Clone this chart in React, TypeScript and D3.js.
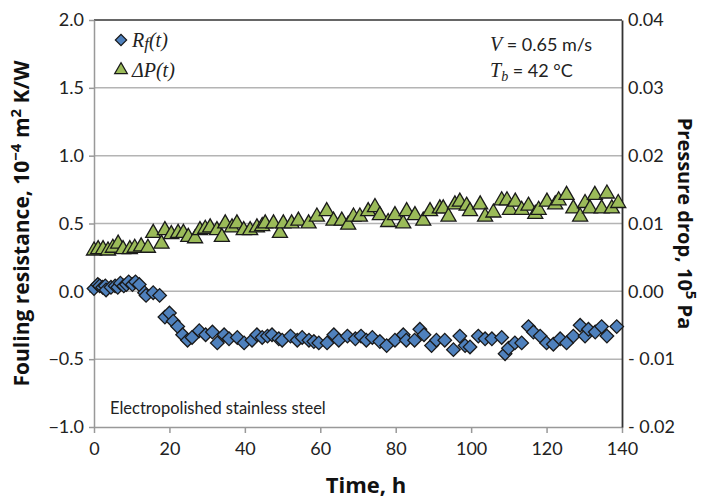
import React, { useEffect, useRef } from 'react'
import * as d3 from 'd3'

// fouling resistance, 10^-4 m2 K/W (left axis)
const rfTime = [
  0, 1.0, 1.5, 2.3, 3.0, 3.2, 4.5, 5.6, 6.3, 7.0, 7.9, 8.6, 9.2, 10.2, 11.0, 12.0, 13.4, 13.8, 15.7, 17.4,
  18.8, 20.0, 21.0, 22.2, 23.5, 24.8, 26.0, 27.9, 29.6, 31.4, 32.7, 34.5, 35.8, 38.0, 39.8, 41.9, 43.2, 44.6,
  46.0, 47.2, 49.0, 49.9, 52.1, 53.9, 55.2, 57.0, 58.3, 59.6, 61.8, 63.6, 64.9, 67.2, 69.3, 70.8, 72.2, 73.8,
  75.8, 77.6, 79.8, 82.0, 82.8, 85.0, 86.4, 87.5, 89.5, 90.8, 93.0, 95.3, 97.0, 98.4, 99.7, 101.9, 103.7,
  105.5, 108.1, 109.0, 109.9, 111.6, 113.4, 115.2, 116.5, 118.3, 120.0, 121.8, 123.6, 125.3, 127.1, 128.9,
  130.2, 131.1, 132.9, 134.6, 136.0, 138.6,
]
const rfValue = [
  0.02, 0.05, 0.04, 0.03, 0.04, 0.01, 0.03, 0.04, 0.03, 0.06, 0.04, 0.05, 0.07, 0.05, 0.07, 0.05, -0.01, -0.03,
  -0.01, -0.03, -0.19, -0.16, -0.22, -0.26, -0.32, -0.36, -0.34, -0.29, -0.32, -0.3, -0.38, -0.32, -0.35, -0.34,
  -0.38, -0.36, -0.32, -0.34, -0.33, -0.32, -0.35, -0.36, -0.33, -0.36, -0.34, -0.36, -0.37, -0.38, -0.38,
  -0.32, -0.36, -0.33, -0.35, -0.33, -0.36, -0.34, -0.37, -0.4, -0.36, -0.32, -0.36, -0.36, -0.28, -0.32, -0.4,
  -0.36, -0.36, -0.43, -0.33, -0.4, -0.41, -0.33, -0.35, -0.35, -0.34, -0.46, -0.42, -0.38, -0.38, -0.26, -0.3,
  -0.33, -0.38, -0.39, -0.35, -0.38, -0.33, -0.25, -0.33, -0.28, -0.3, -0.26, -0.33, -0.26,
]

// pressure drop, 10^5 Pa (right axis)
const dpTime = [
  0, 1.1, 2.4, 3.7, 5.0, 6.4, 7.7, 9.5, 10.8, 12.5, 14.3, 15.7, 17.9, 18.8, 20.5, 22.3, 23.7, 25.0, 26.8, 28.1,
  29.5, 30.8, 32.6, 33.9, 34.8, 36.6, 37.9, 39.7, 41.4, 43.2, 44.6, 45.4, 47.6, 49.3, 50.2, 52.4, 54.2, 56.9,
  59.1, 61.7, 63.5, 65.7, 67.4, 68.8, 70.5, 72.7, 74.5, 75.8, 78.0, 79.8, 82.0, 82.9, 85.1, 87.3, 89.1, 91.7,
  92.6, 94.0, 95.7, 97.0, 98.8, 99.7, 102.4, 103.7, 105.9, 108.1, 109.5, 110.3, 111.7, 113.4, 115.2, 117.0,
  117.9, 120.1, 122.3, 123.2, 125.3, 127.1, 128.9, 130.2, 131.5, 132.8, 134.6, 136.0, 137.3, 139.0,
]
const dpValue = [
  0.006, 0.0062, 0.0062, 0.006, 0.0064, 0.007, 0.0062, 0.0062, 0.0064, 0.0066, 0.0064, 0.0086, 0.007, 0.009,
  0.0084, 0.0086, 0.0086, 0.008, 0.0078, 0.009, 0.0092, 0.0094, 0.009, 0.008, 0.01, 0.0094, 0.01, 0.009, 0.009,
  0.0094, 0.0096, 0.01, 0.01, 0.0086, 0.01, 0.01, 0.0104, 0.01, 0.011, 0.0118, 0.0104, 0.0104, 0.0098, 0.011,
  0.011, 0.0118, 0.0124, 0.0112, 0.0102, 0.0112, 0.01, 0.0118, 0.0112, 0.0104, 0.0118, 0.0122, 0.0122, 0.011,
  0.0128, 0.0132, 0.0126, 0.0118, 0.0128, 0.011, 0.0116, 0.0134, 0.0134, 0.012, 0.0132, 0.012, 0.0126, 0.0114,
  0.012, 0.0132, 0.0128, 0.0134, 0.0142, 0.0122, 0.011, 0.013, 0.0122, 0.0142, 0.0122, 0.0144, 0.0122, 0.013,
]

const xTicks = [0, 20, 40, 60, 80, 100, 120, 140]
const leftTicks = [2, 1.5, 1, 0.5, 0, -0.5, -1]
const leftTickLabels = ['2.0', '1.5', '1.0', '0.5', '0.0', '\u22120.5', '\u22121.0']
const rightTicks = [0.04, 0.03, 0.02, 0.01, 0, -0.01, -0.02]
const rightTickLabels = ['0.04', '0.03', '0.02', '0.01', '0.00', '- 0.01', '- 0.02']

const sans = 'Lato, "Open Sans", sans-serif'
const titleFont = '"Open Sans", Lato, sans-serif'
const serif = '"Liberation Serif", "DejaVu Serif", serif'

const App = () => {
  const svgRef = useRef<SVGSVGElement>(null)

  useEffect(() => {
    const left = 94
    const right = 622
    const top = 20
    const bottom = 427

    const svg = d3.select(svgRef.current)
    svg.selectAll('*').remove()

    const x = d3.scaleLinear().domain([0, 140]).range([left, right])
    const y = d3.scaleLinear().domain([-1, 2]).range([bottom, top])
    const y2 = d3.scaleLinear().domain([-0.02, 0.04]).range([bottom, top])

    // gridlines
    svg
      .append('g')
      .selectAll('line')
      .data(leftTicks.filter((d) => d !== 2 && d !== -1))
      .join('line')
      .attr('x1', left)
      .attr('x2', right)
      .attr('y1', (d) => y(d))
      .attr('y2', (d) => y(d))
      .attr('stroke', '#b4b4b4')
      .attr('stroke-width', 1.5)

    // top border
    svg
      .append('line')
      .attr('x1', left)
      .attr('x2', right)
      .attr('y1', top)
      .attr('y2', top)
      .attr('stroke', '#333')
      .attr('stroke-width', 1.5)

    // left axis
    const gl = svg
      .append('g')
      .attr('transform', `translate(${left},0)`)
      .call(
        d3
          .axisLeft(y)
          .tickValues(leftTicks)
          .tickFormat((d, i) => leftTickLabels[i])
          .tickSize(5)
          .tickSizeOuter(0)
          .tickPadding(5)
      )
    gl.select('.domain').attr('stroke', '#999').attr('stroke-width', 1.5)
    gl.selectAll('.tick line').attr('stroke', '#999').attr('stroke-width', 1.5)
    gl.selectAll('.tick text')
      .attr('fill', '#222')
      .style('font-family', sans)
      .style('font-size', '18px')

    // bottom axis
    const gb = svg
      .append('g')
      .attr('transform', `translate(0,${bottom})`)
      .call(d3.axisBottom(x).tickValues(xTicks).tickSize(6).tickSizeOuter(0).tickPadding(9))
    gb.select('.domain').attr('stroke', '#999').attr('stroke-width', 1.5)
    gb.selectAll('.tick line').attr('stroke', '#999').attr('stroke-width', 1.5)
    gb.selectAll('.tick text')
      .attr('fill', '#222')
      .style('font-family', sans)
      .style('font-size', '18px')

    // right axis
    const gr = svg
      .append('g')
      .attr('transform', `translate(${right},0)`)
      .call(
        d3
          .axisRight(y2)
          .tickValues(rightTicks)
          .tickFormat((d, i) => rightTickLabels[i])
          .tickSize(0)
          .tickPadding(6)
      )
    gr.select('.domain').attr('stroke', '#333').attr('stroke-width', 1.8)
    gr.selectAll('.tick text')
      .attr('fill', '#222')
      .style('font-family', sans)
      .style('font-size', '18px')

    // data
    const tri = d3.symbol(d3.symbolTriangle, 98)
    svg
      .append('g')
      .selectAll('path')
      .data(d3.range(dpTime.length))
      .join('path')
      .attr('d', tri)
      .attr('transform', (i) => `translate(${x(dpTime[i])},${y2(dpValue[i])})`)
      .attr('fill', '#9bbb59')
      .attr('stroke', '#1a1a1a')
      .attr('stroke-width', 1.3)

    const dia = d3.symbol(d3.symbolSquare, 92)
    svg
      .append('g')
      .selectAll('path')
      .data(d3.range(rfTime.length))
      .join('path')
      .attr('d', dia)
      .attr('transform', (i) => `translate(${x(rfTime[i])},${y(rfValue[i])}) rotate(45)`)
      .attr('fill', '#4f81bd')
      .attr('stroke', '#1a1a1a')
      .attr('stroke-width', 1.3)

    // legend
    svg
      .append('path')
      .attr('d', d3.symbol(d3.symbolSquare, 64))
      .attr('transform', 'translate(121,40) rotate(45)')
      .attr('fill', '#4f81bd')
      .attr('stroke', '#1a1a1a')
      .attr('stroke-width', 1.2)
    const l1 = svg
      .append('text')
      .attr('x', 132)
      .attr('y', 47)
      .style('font-family', serif)
      .style('font-style', 'italic')
      .style('font-size', '20px')
      .attr('fill', '#222')
    l1.append('tspan').text('R')
    l1.append('tspan').text('f').attr('dy', 2).style('font-size', '17px')
    l1.append('tspan').text('(t)').attr('dy', -2)

    svg
      .append('path')
      .attr('d', d3.symbol(d3.symbolTriangle, 70))
      .attr('transform', 'translate(121,70)')
      .attr('fill', '#9bbb59')
      .attr('stroke', '#1a1a1a')
      .attr('stroke-width', 1.2)
    svg
      .append('text')
      .attr('x', 132)
      .attr('y', 77)
      .text('\u0394P(t)')
      .style('font-family', serif)
      .style('font-style', 'italic')
      .style('font-size', '20px')
      .attr('fill', '#222')

    // conditions
    const c1 = svg.append('text').attr('x', 490).attr('y', 51).attr('fill', '#222').style('font-size', '18px')
    c1.append('tspan').text('V').style('font-family', serif).style('font-style', 'italic').style('font-size', '20px')
    c1.append('tspan').text(' = 0.65 m/s').style('font-family', sans)
    const c2 = svg.append('text').attr('x', 490).attr('y', 77).attr('fill', '#222').style('font-size', '18px')
    c2.append('tspan').text('T').style('font-family', serif).style('font-style', 'italic').style('font-size', '20px')
    c2.append('tspan').text('b').attr('dy', 4).style('font-family', serif).style('font-style', 'italic').style('font-size', '14px')
    c2.append('tspan').text(' = 42 \u00b0C').attr('dy', -4).style('font-family', sans)

    svg
      .append('text')
      .attr('x', 110)
      .attr('y', 414)
      .text('Electropolished stainless steel')
      .attr('fill', '#222')
      .style('font-family', sans)
      .style('font-size', '16.5px')

    // axis titles
    const lt = svg
      .append('text')
      .attr('transform', `translate(29,${(top + bottom) / 2}) rotate(-90)`)
      .attr('text-anchor', 'middle')
      .attr('fill', '#111')
      .style('font-family', titleFont)
      .style('font-weight', 'bold')
      .style('font-size', '21px')
    lt.append('tspan').text('Fouling resistance, 10')
    lt.append('tspan').text('\u22124').attr('dy', -8).style('font-size', '15px')
    lt.append('tspan').text(' m').attr('dy', 8)
    lt.append('tspan').text('2').attr('dy', -8).style('font-size', '15px')
    lt.append('tspan').text(' K/W').attr('dy', 8)

    const rt = svg
      .append('text')
      .attr('transform', `translate(678,${(top + bottom) / 2}) rotate(90)`)
      .attr('text-anchor', 'middle')
      .attr('fill', '#111')
      .style('font-family', titleFont)
      .style('font-weight', 'bold')
      .style('font-size', '20px')
    rt.append('tspan').text('Pressure drop, 10')
    rt.append('tspan').text('5').attr('dy', -8).style('font-size', '15px')
    rt.append('tspan').text(' Pa').attr('dy', 8)

    svg
      .append('text')
      .attr('x', 366)
      .attr('y', 493)
      .attr('text-anchor', 'middle')
      .text('Time, h')
      .attr('fill', '#111')
      .style('font-family', titleFont)
      .style('font-weight', 'bold')
      .style('font-size', '22px')
  }, [])

  return (
    <svg
      ref={svgRef}
      width={703}
      height={501}
      style={{ position: 'absolute', left: 0, top: 0, background: '#fff' }}
    ></svg>
  )
}

export default App
